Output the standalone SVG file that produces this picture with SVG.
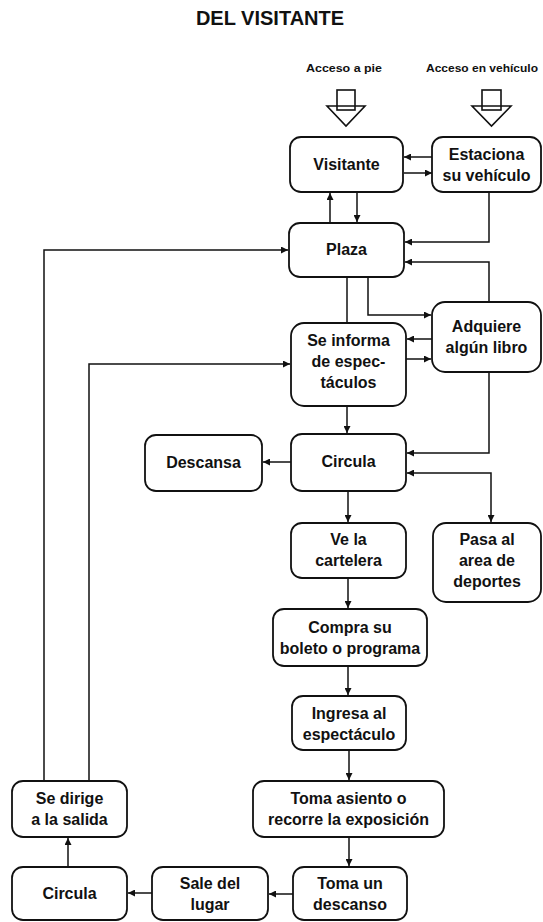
<svg xmlns="http://www.w3.org/2000/svg" width="543" height="922" viewBox="0 0 543 922">
<style>
.box{fill:#fff;stroke:#111;stroke-width:1.8}
.t{font-family:"Liberation Sans",Arial,sans-serif;font-size:16px;font-weight:bold;fill:#111;text-anchor:middle}
.lbl{font-family:"Liberation Sans",Arial,sans-serif;font-size:10px;font-weight:bold;fill:#111;text-anchor:middle}
.title{font-family:"Liberation Sans",Arial,sans-serif;font-size:20px;font-weight:bold;fill:#111;text-anchor:middle}
.c{fill:none;stroke:#111;stroke-width:1.5}
.ca{fill:none;stroke:#111;stroke-width:1.5;marker-end:url(#ah)}
.blk{fill:#fff;stroke:#111;stroke-width:1.6}
</style>
<defs>
<marker id="ah" viewBox="0 0 10 10" refX="10" refY="5" markerWidth="7" markerHeight="7" markerUnits="userSpaceOnUse" orient="auto">
<path d="M0,0 L10,5 L0,10 z" fill="#111"/>
</marker>
<marker id="ahs" viewBox="0 0 10 10" refX="10" refY="5" markerWidth="7" markerHeight="7" markerUnits="userSpaceOnUse" orient="auto-start-reverse">
<path d="M0,0 L10,5 L0,10 z" fill="#111"/>
</marker>
</defs>
<rect width="543" height="922" fill="#fff"/>
<text class="title" x="270" y="25">DEL VISITANTE</text>

<g id="acceso-pie">
<text class="lbl" x="344" y="72" textLength="76" lengthAdjust="spacingAndGlyphs">Acceso a pie</text>
<polygon class="blk" points="327,106 365,106 346,126"/>
<rect x="337" y="90" width="18" height="20" fill="none" stroke="#111" stroke-width="1.6"/>
</g>
<g id="acceso-vehiculo">
<text class="lbl" x="482" y="72" textLength="112" lengthAdjust="spacingAndGlyphs">Acceso en vehículo</text>
<polygon class="blk" points="472,106 511,106 491.5,126"/>
<rect x="482" y="90" width="19" height="20" fill="none" stroke="#111" stroke-width="1.6"/>
</g>

<g id="connectors">
<line class="ca" x1="432" y1="157" x2="404" y2="157"/>
<line class="ca" x1="404" y1="173" x2="432" y2="173"/>
<line class="ca" x1="330" y1="223" x2="330" y2="193"/>
<line class="ca" x1="357" y1="192" x2="357" y2="222"/>
<polyline class="ca" points="489,192 489,242 405,242"/>
<polyline class="ca" points="489,302 489,262 405,262"/>
<line class="c" x1="347" y1="277" x2="347" y2="323"/>
<polyline class="ca" points="368,277 368,315 431,315"/>
<line class="ca" x1="432" y1="339" x2="407" y2="339"/>
<line class="ca" x1="406" y1="359" x2="431" y2="359"/>
<line class="ca" x1="347" y1="406" x2="347" y2="433"/>
<polyline class="ca" points="489,372 489,453 407,453"/>
<polyline class="c" points="407,473 491,473 491,522" marker-start="url(#ahs)" marker-end="url(#ah)"/>
<line class="ca" x1="291" y1="462" x2="263" y2="462"/>
<line class="ca" x1="348" y1="491" x2="348" y2="522"/>
<line class="ca" x1="348" y1="578" x2="348" y2="608"/>
<line class="ca" x1="348" y1="666" x2="348" y2="695"/>
<line class="ca" x1="349" y1="750" x2="349" y2="780"/>
<line class="ca" x1="349" y1="837" x2="349" y2="866"/>
<line class="ca" x1="293" y1="894" x2="269" y2="894"/>
<line class="ca" x1="152" y1="893" x2="128" y2="893"/>
<line class="ca" x1="68" y1="867" x2="68" y2="838"/>
<polyline class="ca" points="44,781 44,250 288,250"/>
<polyline class="ca" points="89,781 89,364 290,364"/>
</g>

<g id="visitante">
<rect class="box" x="290" y="137" width="113" height="55" rx="11"/>
<text class="t" x="346.5" y="170">Visitante</text>
</g>
<g id="estaciona">
<rect class="box" x="432" y="137" width="109" height="55" rx="11"/>
<text class="t" x="486.5" y="160">Estaciona</text>
<text class="t" x="486.5" y="181">su vehículo</text>
</g>
<g id="plaza">
<rect class="box" x="289" y="223" width="115" height="54" rx="11"/>
<text class="t" x="346.5" y="255">Plaza</text>
</g>
<g id="se-informa">
<rect class="box" x="291" y="323" width="115" height="83" rx="13"/>
<text class="t" x="348.5" y="346">Se informa</text>
<text class="t" x="348.5" y="367">de espec-</text>
<text class="t" x="348.5" y="388">táculos</text>
</g>
<g id="adquiere">
<rect class="box" x="432" y="302" width="109" height="70" rx="13"/>
<text class="t" x="486.5" y="332">Adquiere</text>
<text class="t" x="486.5" y="353">algún libro</text>
</g>
<g id="descansa">
<rect class="box" x="145" y="435" width="117" height="56" rx="11"/>
<text class="t" x="203.5" y="468">Descansa</text>
</g>
<g id="circula">
<rect class="box" x="291" y="434" width="115" height="57" rx="11"/>
<text class="t" x="348.5" y="467">Circula</text>
</g>
<g id="ve-cartelera">
<rect class="box" x="291" y="523" width="115" height="55" rx="11"/>
<text class="t" x="348.5" y="545">Ve la</text>
<text class="t" x="348.5" y="566">cartelera</text>
</g>
<g id="pasa-deportes">
<rect class="box" x="433" y="523" width="108" height="79" rx="13"/>
<text class="t" x="487" y="545">Pasa al</text>
<text class="t" x="487" y="566">area de</text>
<text class="t" x="487" y="587">deportes</text>
</g>
<g id="compra">
<rect class="box" x="273" y="609" width="154" height="57" rx="11"/>
<text class="t" x="350" y="633">Compra su</text>
<text class="t" x="350" y="654">boleto o programa</text>
</g>
<g id="ingresa">
<rect class="box" x="292" y="696" width="114" height="54" rx="11"/>
<text class="t" x="349" y="719">Ingresa al</text>
<text class="t" x="349" y="740">espectáculo</text>
</g>
<g id="toma-asiento">
<rect class="box" x="253" y="781" width="191" height="56" rx="11"/>
<text class="t" x="348.5" y="804">Toma asiento o</text>
<text class="t" x="348.5" y="825">recorre la exposición</text>
</g>
<g id="toma-descanso">
<rect class="box" x="293" y="867" width="114" height="53" rx="11"/>
<text class="t" x="350" y="889">Toma un</text>
<text class="t" x="350" y="910">descanso</text>
</g>
<g id="sale-lugar">
<rect class="box" x="152" y="867" width="116" height="53" rx="11"/>
<text class="t" x="210" y="889">Sale del</text>
<text class="t" x="210" y="910">lugar</text>
</g>
<g id="circula-2">
<rect class="box" x="12" y="867" width="115" height="53" rx="11"/>
<text class="t" x="69.5" y="899">Circula</text>
</g>
<g id="se-dirige">
<rect class="box" x="12" y="781" width="115" height="56" rx="11"/>
<text class="t" x="69.5" y="804">Se dirige</text>
<text class="t" x="69.5" y="825">a la salida</text>
</g>
</svg>
